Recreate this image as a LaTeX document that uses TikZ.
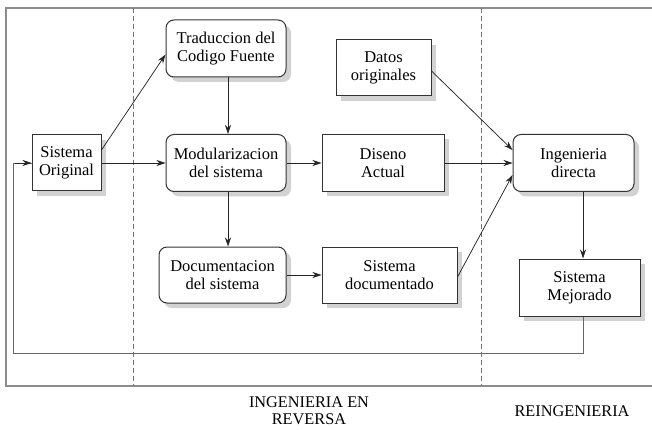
\documentclass[tikz,border=0pt]{standalone}
\usepackage{fontspec}
\setmainfont{Liberation Serif}
\usetikzlibrary{arrows.meta,shadows}
\begin{document}
\begin{tikzpicture}[x=1pt,y=-1pt,
  font=\fontsize{16.5pt}{18pt}\selectfont,
  base/.style={draw=black!80, line width=1pt, fill=white, align=center, inner sep=2pt,
    drop shadow={shadow xshift=5pt, shadow yshift=-5pt, fill=black!35}},
  sq/.style={base},
  rd/.style={base, rounded corners=8pt},
  arr/.style={-{Stealth[length=9pt,width=6pt]}, line width=0.75pt, black!85},
  frame/.style={black!45, line width=1.1pt},
  divider/.style={black!55, line width=0.9pt, dash pattern=on 5pt off 3pt},
  loop/.style={black!60, line width=0.9pt},
  lbl/.style={align=center, font=\fontsize{16.3pt}{17pt}\selectfont}]
\useasboundingbox (0,0) rectangle (652,430);
% frame and dividers
\coordinate (fTR) at (652,8);
\coordinate (fTL) at (6,8);
\coordinate (fBL) at (6,386);
\coordinate (fBR) at (652,386);
\draw[frame] (fTR) -- (fTL) -- (fBL) -- (fBR);
\coordinate (d1t) at (133,8);
\coordinate (d1b) at (133,386);
\coordinate (d2t) at (481,8);
\coordinate (d2b) at (481,386);
\draw[divider] (d1t) -- (d1b);
\draw[divider] (d2t) -- (d2b);
% nodes
\node[sq, minimum width=69pt, minimum height=56pt] (SO) at (66.5,163) {Sistema\\Original};
\node[rd, minimum width=120pt, minimum height=57pt] (TR) at (226,48.5) {Traduccion del\\Codigo Fuente};
\node[rd, minimum width=120pt, minimum height=57pt] (MO) at (226,163) {Modularizacion\\del sistema};
\node[rd, minimum width=127pt, minimum height=56pt] (DO) at (222.5,275) {Documentacion\\del sistema};
\node[sq, minimum width=95pt, minimum height=56pt] (DA) at (383.5,68) {Datos\\originales};
\node[sq, minimum width=122pt, minimum height=57pt] (DI) at (383,163) {Diseno\\Actual};
\node[sq, minimum width=135pt, minimum height=56pt] (SD) at (389.5,275) {Sistema\\documentado};
\node[rd, minimum width=121pt, minimum height=57pt] (ID) at (573.5,163) {Ingenieria\\directa};
\node[sq, minimum width=121pt, minimum height=57pt] (SM) at (579.5,287.5) {Sistema\\Mejorado};
% labels
\node[lbl] (L1) at (309,411) {INGENIERIA EN\\REVERSA};
\node[lbl] (L2) at (572,411) {REINGENIERIA};
% connectors
\coordinate (cx) at (583,0);
\coordinate (cm) at (228,0);
\coordinate (lp) at (13,353);
\draw[arr] ([yshift=13pt]SO.east) -- ([yshift=-6pt]TR.west);
\draw[arr] (SO.east) -- (MO.west);
\draw[arr] (TR.south -| cm) -- (MO.north -| cm);
\draw[arr] (MO.south -| cm) -- (DO.north -| cm);
\draw[arr] (MO.east) -- (DI.west);
\draw[arr] (DO.east) -- (SD.west);
\draw[arr] ([yshift=-3pt]DA.east) -- ([yshift=13pt]ID.west);
\draw[arr] (DI.east) -- (ID.west);
\draw[arr] ([yshift=-2pt]SD.east) -- ([yshift=-12pt]ID.west);
\draw[arr] (ID.south -| cx) -- (SM.north -| cx);
\draw[loop] (SM.south -| cx) |- (lp) |- (SO.west);
\draw[arr] ([xshift=-17pt]SO.west) -- (SO.west);
\end{tikzpicture}
\end{document}
